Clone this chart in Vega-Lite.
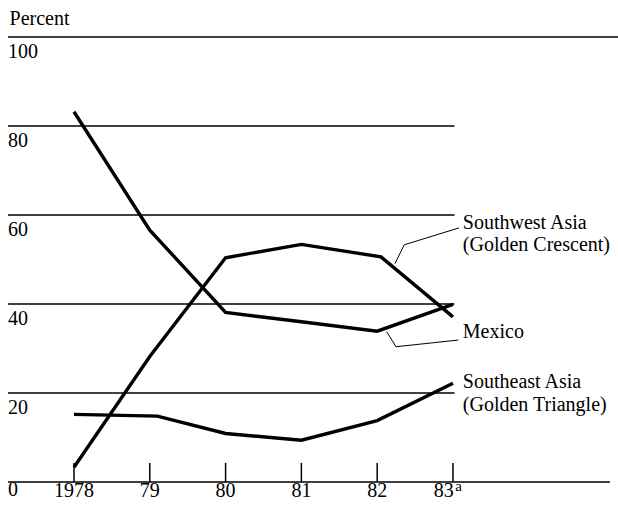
{
  "$schema": "https://vega.github.io/schema/vega-lite/v6.json",
  "width": 618,
  "height": 506,
  "autosize": {"type": "none"},
  "padding": 0,
  "background": "white",
  "config": {"view": {"stroke": null}, "text": {"font": "Liberation Serif", "fontSize": 20, "color": "black"}},
  "datasets": {
    "series": [
      {"series": "Mexico", "year": 1978, "value": 83.2},
      {"series": "Mexico", "year": 1979, "value": 56.6},
      {"series": "Mexico", "year": 1980, "value": 38.1},
      {"series": "Mexico", "year": 1981, "value": 36.0},
      {"series": "Mexico", "year": 1982, "value": 33.9},
      {"series": "Mexico", "year": 1983, "value": 39.9},
      {"series": "Southwest Asia", "year": 1978, "value": 3.3},
      {"series": "Southwest Asia", "year": 1979, "value": 28.2},
      {"series": "Southwest Asia", "year": 1980, "value": 50.4},
      {"series": "Southwest Asia", "year": 1981, "value": 53.4},
      {"series": "Southwest Asia", "year": 1982.05, "value": 50.6},
      {"series": "Southwest Asia", "year": 1983, "value": 37.1},
      {"series": "Southeast Asia", "year": 1978, "value": 15.2},
      {"series": "Southeast Asia", "year": 1979.1, "value": 14.8},
      {"series": "Southeast Asia", "year": 1980, "value": 10.9},
      {"series": "Southeast Asia", "year": 1981, "value": 9.4},
      {"series": "Southeast Asia", "year": 1982, "value": 13.8},
      {"series": "Southeast Asia", "year": 1983, "value": 22.2}
    ],
    "grid": [
      {"value": 100, "x0": 1977.13, "x1": 1985.18},
      {"value": 80, "x0": 1977.13, "x1": 1983.02},
      {"value": 60, "x0": 1977.13, "x1": 1983.02},
      {"value": 40, "x0": 1977.13, "x1": 1983.02},
      {"value": 20, "x0": 1977.13, "x1": 1983.02},
      {"value": 0, "x0": 1977.13, "x1": 1985.07}
    ],
    "ticks": [
      {"year": 1978},
      {"year": 1979},
      {"year": 1980},
      {"year": 1981},
      {"year": 1982},
      {"year": 1983}
    ],
    "xlabels": [
      {"year": 1978, "label": "1978"},
      {"year": 1979, "label": "79"},
      {"year": 1980, "label": "80"},
      {"year": 1981, "label": "81"},
      {"year": 1982, "label": "82"}
    ],
    "ylabels": [
      {"value": 100, "label": "100"},
      {"value": 80, "label": "80"},
      {"value": 60, "label": "60"},
      {"value": 40, "label": "40"},
      {"value": 20, "label": "20"}
    ],
    "notes": [
      {"label": "Percent", "year": 1977.15, "value": 102.6},
      {"label": "0", "year": 1977.13, "value": -3.2},
      {"label": "Southwest Asia", "year": 1983.13, "value": 56.8},
      {"label": "(Golden Crescent)", "year": 1983.13, "value": 51.9},
      {"label": "Mexico", "year": 1983.13, "value": 32.4},
      {"label": "Southeast Asia", "year": 1983.13, "value": 21.2},
      {"label": "(Golden Triangle)", "year": 1983.13, "value": 15.9}
    ],
    "leaders": [
      {"leader": "sw", "order": 1, "year": 1982.235, "value": 49.1},
      {"leader": "sw", "order": 2, "year": 1982.357, "value": 53.3},
      {"leader": "sw", "order": 3, "year": 1983.08, "value": 57.1},
      {"leader": "mx", "order": 1, "year": 1982.125, "value": 33.8},
      {"leader": "mx", "order": 2, "year": 1982.248, "value": 30.4},
      {"leader": "mx", "order": 3, "year": 1983.07, "value": 31.9}
    ]
  },
  "layer": [
    {
      "data": {"name": "grid"},
      "mark": {"type": "rule", "color": "black", "strokeWidth": 1.6},
      "encoding": {
        "x": {"field": "x0", "type": "quantitative", "scale": {"domain": [1977.024, 1985.177], "nice": false, "zero": false}, "axis": null},
        "x2": {"field": "x1"},
        "y": {"field": "value", "type": "quantitative", "scale": {"domain": [-5.39, 108.31], "nice": false, "zero": false}, "axis": null}
      }
    },
    {
      "data": {"name": "ticks"},
      "mark": {"type": "rule", "color": "black", "strokeWidth": 1.5},
      "encoding": {
        "x": {"field": "year", "type": "quantitative"},
        "y": {"datum": 0, "type": "quantitative"},
        "y2": {"datum": 4.3}
      }
    },
    {
      "data": {"name": "xlabels"},
      "mark": {"type": "text", "align": "center", "baseline": "alphabetic", "dy": 15},
      "encoding": {
        "x": {"field": "year", "type": "quantitative"},
        "y": {"datum": 0, "type": "quantitative"},
        "text": {"field": "label"}
      }
    },
    {
      "data": {"values": [{"year": 1983.01, "label": "83"}]},
      "mark": {"type": "text", "align": "right", "baseline": "alphabetic", "dy": 15},
      "encoding": {
        "x": {"field": "year", "type": "quantitative"},
        "y": {"datum": 0, "type": "quantitative"},
        "text": {"field": "label"}
      }
    },
    {
      "data": {"values": [{"year": 1983.03, "label": "a"}]},
      "mark": {"type": "text", "align": "left", "baseline": "alphabetic", "fontSize": 15, "dy": 9},
      "encoding": {
        "x": {"field": "year", "type": "quantitative"},
        "y": {"datum": 0, "type": "quantitative"},
        "text": {"field": "label"}
      }
    },
    {
      "data": {"name": "ylabels"},
      "mark": {"type": "text", "align": "left", "baseline": "alphabetic", "dy": 21},
      "encoding": {
        "x": {"datum": 1977.13, "type": "quantitative"},
        "y": {"field": "value", "type": "quantitative"},
        "text": {"field": "label"}
      }
    },
    {
      "data": {"name": "notes"},
      "mark": {"type": "text", "align": "left", "baseline": "alphabetic"},
      "encoding": {
        "x": {"field": "year", "type": "quantitative"},
        "y": {"field": "value", "type": "quantitative"},
        "text": {"field": "label"}
      }
    },
    {
      "data": {"name": "leaders"},
      "mark": {"type": "line", "color": "black", "strokeWidth": 1},
      "encoding": {
        "x": {"field": "year", "type": "quantitative"},
        "y": {"field": "value", "type": "quantitative"},
        "detail": {"field": "leader"},
        "order": {"field": "order"}
      }
    },
    {
      "data": {"name": "series"},
      "mark": {"type": "line", "color": "black", "strokeWidth": 3.4, "strokeJoin": "miter"},
      "encoding": {
        "x": {"field": "year", "type": "quantitative"},
        "y": {"field": "value", "type": "quantitative"},
        "detail": {"field": "series"}
      }
    }
  ]
}
